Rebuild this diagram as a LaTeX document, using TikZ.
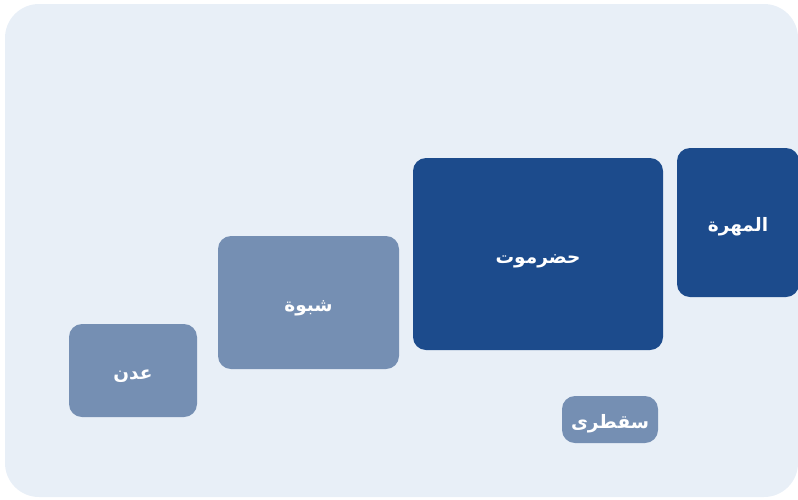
\documentclass[tikz,border=0pt]{standalone}
\usepackage{fontspec}
\newfontfamily\arabicfont[Script=Arabic]{DejaVu Sans}
\TeXXeTstate=1
\definecolor{bgc}{HTML}{E8EFF7}
\definecolor{lightc}{HTML}{758FB3}
\definecolor{darkc}{HTML}{1C4B8C}
\newcommand{\artxt}[1]{\beginR #1\endR}
\tikzset{
  region/.style={rounded corners=13pt, inner sep=0pt, text=white,
    text height=18pt, text depth=0pt,
    font=\arabicfont\bfseries\fontsize{18.5}{20}\selectfont},
  lightreg/.style={region, fill=lightc},
  darkreg/.style={region, fill=darkc}
}
\begin{document}
\begin{tikzpicture}[x=1pt,y=-1pt]
\useasboundingbox (0,0) rectangle (798,499);
\fill[bgc, rounded corners=34pt] (5,4) rectangle (798,497);
\node[lightreg, minimum width=128pt, minimum height=93pt] (aden) at (133,370.5) {\artxt{عدن}};
\node[lightreg, minimum width=181pt, minimum height=133pt] (shabwa) at (308.5,302.5) {\artxt{شبوة}};
\node[darkreg, minimum width=250pt, minimum height=192pt] (hadramout) at (538,254) {\artxt{حضرموت}};
\node[darkreg, minimum width=122pt, minimum height=149pt] (mahra) at (738,222.5) {\artxt{المهرة}};
\node[lightreg, minimum width=96pt, minimum height=47pt] (socotra) at (610,419.5) {\artxt{سقطرى}};
\end{tikzpicture}
\end{document}
